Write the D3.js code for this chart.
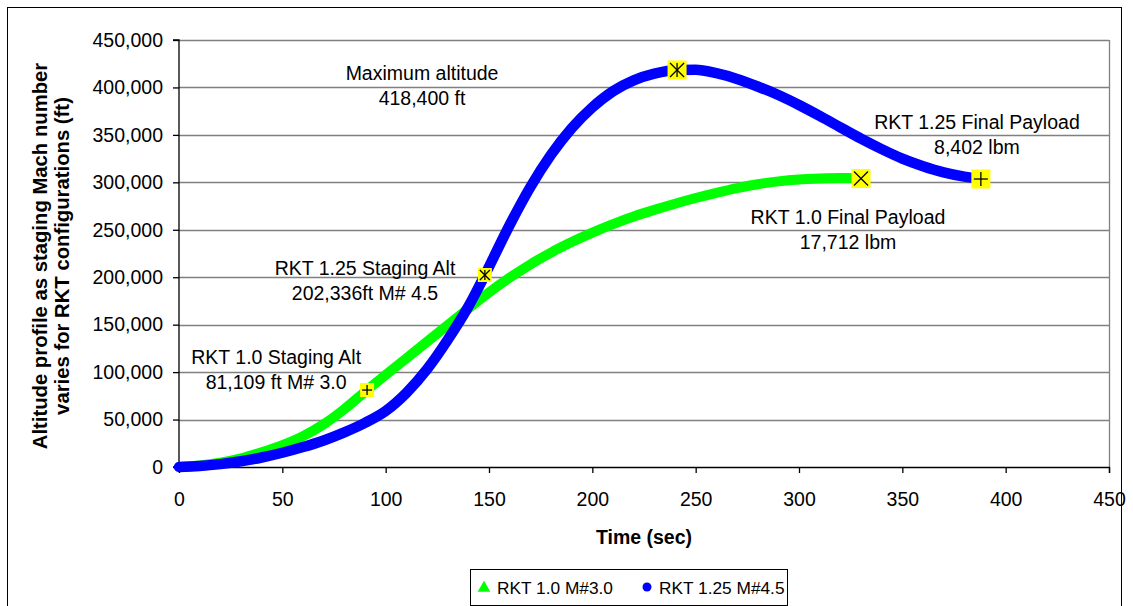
<!DOCTYPE html>
<html><head><meta charset="utf-8">
<script src="https://cdn.jsdelivr.net/npm/d3@7"></script>
<style>
body{margin:0;background:#fff;}
text{font-family:"Liberation Sans",Arial,sans-serif;fill:#000;}
</style></head>
<body><svg id="c" width="1133" height="606"></svg>
<script>
// ---- data ----
const timeRkt10 = [0,10,20,30,40,50,60,70,80,91,100,110,120,130,140,150,160,170,180,190,200,210,220,230,240,250,260,270,280,290,300,310,320,330];
const altRkt10  = [0,1500,4500,9000,15500,23000,32500,45000,61000,81109,97000,114500,132000,149500,167000,184000,199500,213500,226000,237000,247000,256000,264000,271000,277500,283500,289000,294000,298000,301000,303000,304000,304500,304500];
const timeRkt125 = [0,10,20,30,40,50,60,70,80,90,100,110,120,130,140,148,150,160,170,180,190,200,210,220,230,241,250,260,270,280,290,300,310,320,330,340,350,360,370,380,388];
const altRkt125  = [0,1000,3000,6000,10000,15000,21000,28000,36500,46500,59000,78000,103000,134000,169000,202336,211000,255000,295000,329000,357000,379000,396000,407500,414500,418400,418600,415000,409000,401000,392000,381500,370000,358000,346000,335000,325000,317000,310500,306000,303500];
const seriesNames = ["RKT 1.0 M#3.0","RKT 1.25 M#4.5"];
const xTicks = [0,50,100,150,200,250,300,350,400,450];
const yTicks = [0,50000,100000,150000,200000,250000,300000,350000,400000,450000];
// key points
const keyTimes = [91,148,241,330,388];
const keyAlts  = [81109,202336,418400,304000,303500];
const keySymbols = ["plus","star","star","cross","plus"];
const keyLarge = [false,false,true,true,true];
const annTexts = [
  ["RKT 1.0 Staging Alt","81,109 ft M# 3.0"],
  ["RKT 1.25 Staging Alt","202,336ft M# 4.5"],
  ["Maximum altitude","418,400 ft"],
  ["RKT 1.0 Final Payload","17,712 lbm"],
  ["RKT 1.25 Final Payload","8,402 lbm"]
];
// annotation anchors in data units (time, altitude of first baseline)
const annTimes = [47,90,117.6,323.7,386.1];
const annAlts  = [108500,202300,407800,256100,356200];

// ---- layout ----
const svg = d3.select("#c");
const L=179, R=1109, T=40, B=467;
const x = d3.scaleLinear().domain([0,450]).range([L,R]);
const y = d3.scaleLinear().domain([0,450000]).range([B,T]);

svg.append("rect").attr("x",7.5).attr("y",7.5).attr("width",1114).attr("height",640)
  .attr("fill","none").attr("stroke","#000").attr("stroke-width",1);

// grid
svg.append("g").selectAll("line").data(yTicks.filter(d=>d>0)).join("line")
  .attr("x1",L).attr("x2",R).attr("y1",d=>Math.round(y(d))+0.5).attr("y2",d=>Math.round(y(d))+0.5)
  .attr("stroke","#808080").attr("stroke-width",1.3);
svg.append("line").attr("x1",R+0.5).attr("x2",R+0.5).attr("y1",T).attr("y2",B).attr("stroke","#808080").attr("stroke-width",1.3);

// axes
const xAxis = d3.axisBottom(x).tickValues(xTicks).tickSize(6).tickPadding(19).tickFormat(d3.format("d"));
const gx = svg.append("g").attr("transform",`translate(0,${B})`).call(xAxis);
const yAxis = d3.axisLeft(y).tickValues(yTicks).tickSize(6).tickPadding(10).tickFormat(d3.format(","));
const gy = svg.append("g").attr("transform",`translate(${L},0)`).call(yAxis);
[gx,gy].forEach(g=>{
  g.select(".domain").attr("stroke","#000").attr("stroke-width",1.3);
  g.selectAll(".tick line").attr("stroke","#000").attr("stroke-width",1.3);
  g.selectAll("text").attr("font-size",19.5).attr("font-family","Liberation Sans, Arial, sans-serif").attr("fill","#000");
});
gy.select(".domain").attr("d",`M-6,${T}H0V${B}H-6`);

// titles
svg.append("text").attr("x",(L+R)/2).attr("y",544).attr("text-anchor","middle")
  .attr("font-size",19.5).attr("font-weight","bold").text("Time (sec)");
const yt = svg.append("text").attr("transform",`translate(47,256) rotate(-90)`).attr("text-anchor","middle")
  .attr("font-size",20.3).attr("font-weight","bold");
yt.append("tspan").attr("x",0).attr("dy",0).text("Altitude profile as staging Mach number");
yt.append("tspan").attr("x",0).attr("dy",22).text("varies for RKT configurations (ft)");

// curves
const line = d3.line().x(d=>x(d[0])).y(d=>y(d[1])).curve(d3.curveMonotoneX);
const g10 = d3.zip(timeRkt10, altRkt10);
const g125 = d3.zip(timeRkt125, altRkt125);
svg.append("path").attr("d",line(g10)).attr("fill","none").attr("stroke","#00ff00")
  .attr("stroke-width",10).attr("stroke-linecap","butt");
svg.append("path").attr("d",line(g125)).attr("fill","none").attr("stroke","#0000ff")
  .attr("stroke-width",10.5).attr("stroke-linecap","round");

// key markers
const km = svg.append("g");
keyTimes.forEach((t,i)=>{
  const cx=x(t), cy=y(keyAlts[i]);
  const s = keyLarge[i]?19:14, h=s/2, a=keyLarge[i]?7:5;
  const g = km.append("g").attr("transform",`translate(${cx},${cy})`);
  g.append("rect").attr("x",-h).attr("y",-h).attr("width",s).attr("height",s).attr("fill","#ffff00");
  const seg=(x1,y1,x2,y2)=>g.append("line").attr("x1",x1).attr("y1",y1).attr("x2",x2).attr("y2",y2).attr("stroke","#000").attr("stroke-width",1.3);
  const sym = keySymbols[i];
  if(sym==="plus"||sym==="star"){seg(0,-a,0,a);}
  if(sym==="plus"){seg(-a,0,a,0);}
  if(sym==="cross"||sym==="star"){seg(-a,-a,a,a);seg(-a,a,a,-a);}
});

// annotations
annTexts.forEach((lines,i)=>{
  const ax=x(annTimes[i]);
  const tx = svg.append("text").attr("x",ax).attr("y",y(annAlts[i])).attr("text-anchor","middle").attr("font-size",19.5);
  tx.append("tspan").attr("x",ax).attr("dy",0).text(lines[0]);
  tx.append("tspan").attr("x",ax).attr("dy",25).text(lines[1]);
});

// legend
const lg = svg.append("g").attr("transform","translate(470,569)");
lg.append("rect").attr("x",0.5).attr("y",0.5).attr("width",317).attr("height",36).attr("fill","#fff").attr("stroke","#000").attr("stroke-width",1);
lg.append("path").attr("d",d3.symbol(d3.symbolTriangle,70)()).attr("transform","translate(14,19)").attr("fill","#00ff00");
lg.append("text").attr("x",27).attr("y",25).attr("font-size",17.3).text(seriesNames[0]);
lg.append("circle").attr("cx",177).attr("cy",18).attr("r",4.5).attr("fill","#0000ff");
lg.append("text").attr("x",189).attr("y",25).attr("font-size",17.3).text(seriesNames[1]);
</script></body></html>
